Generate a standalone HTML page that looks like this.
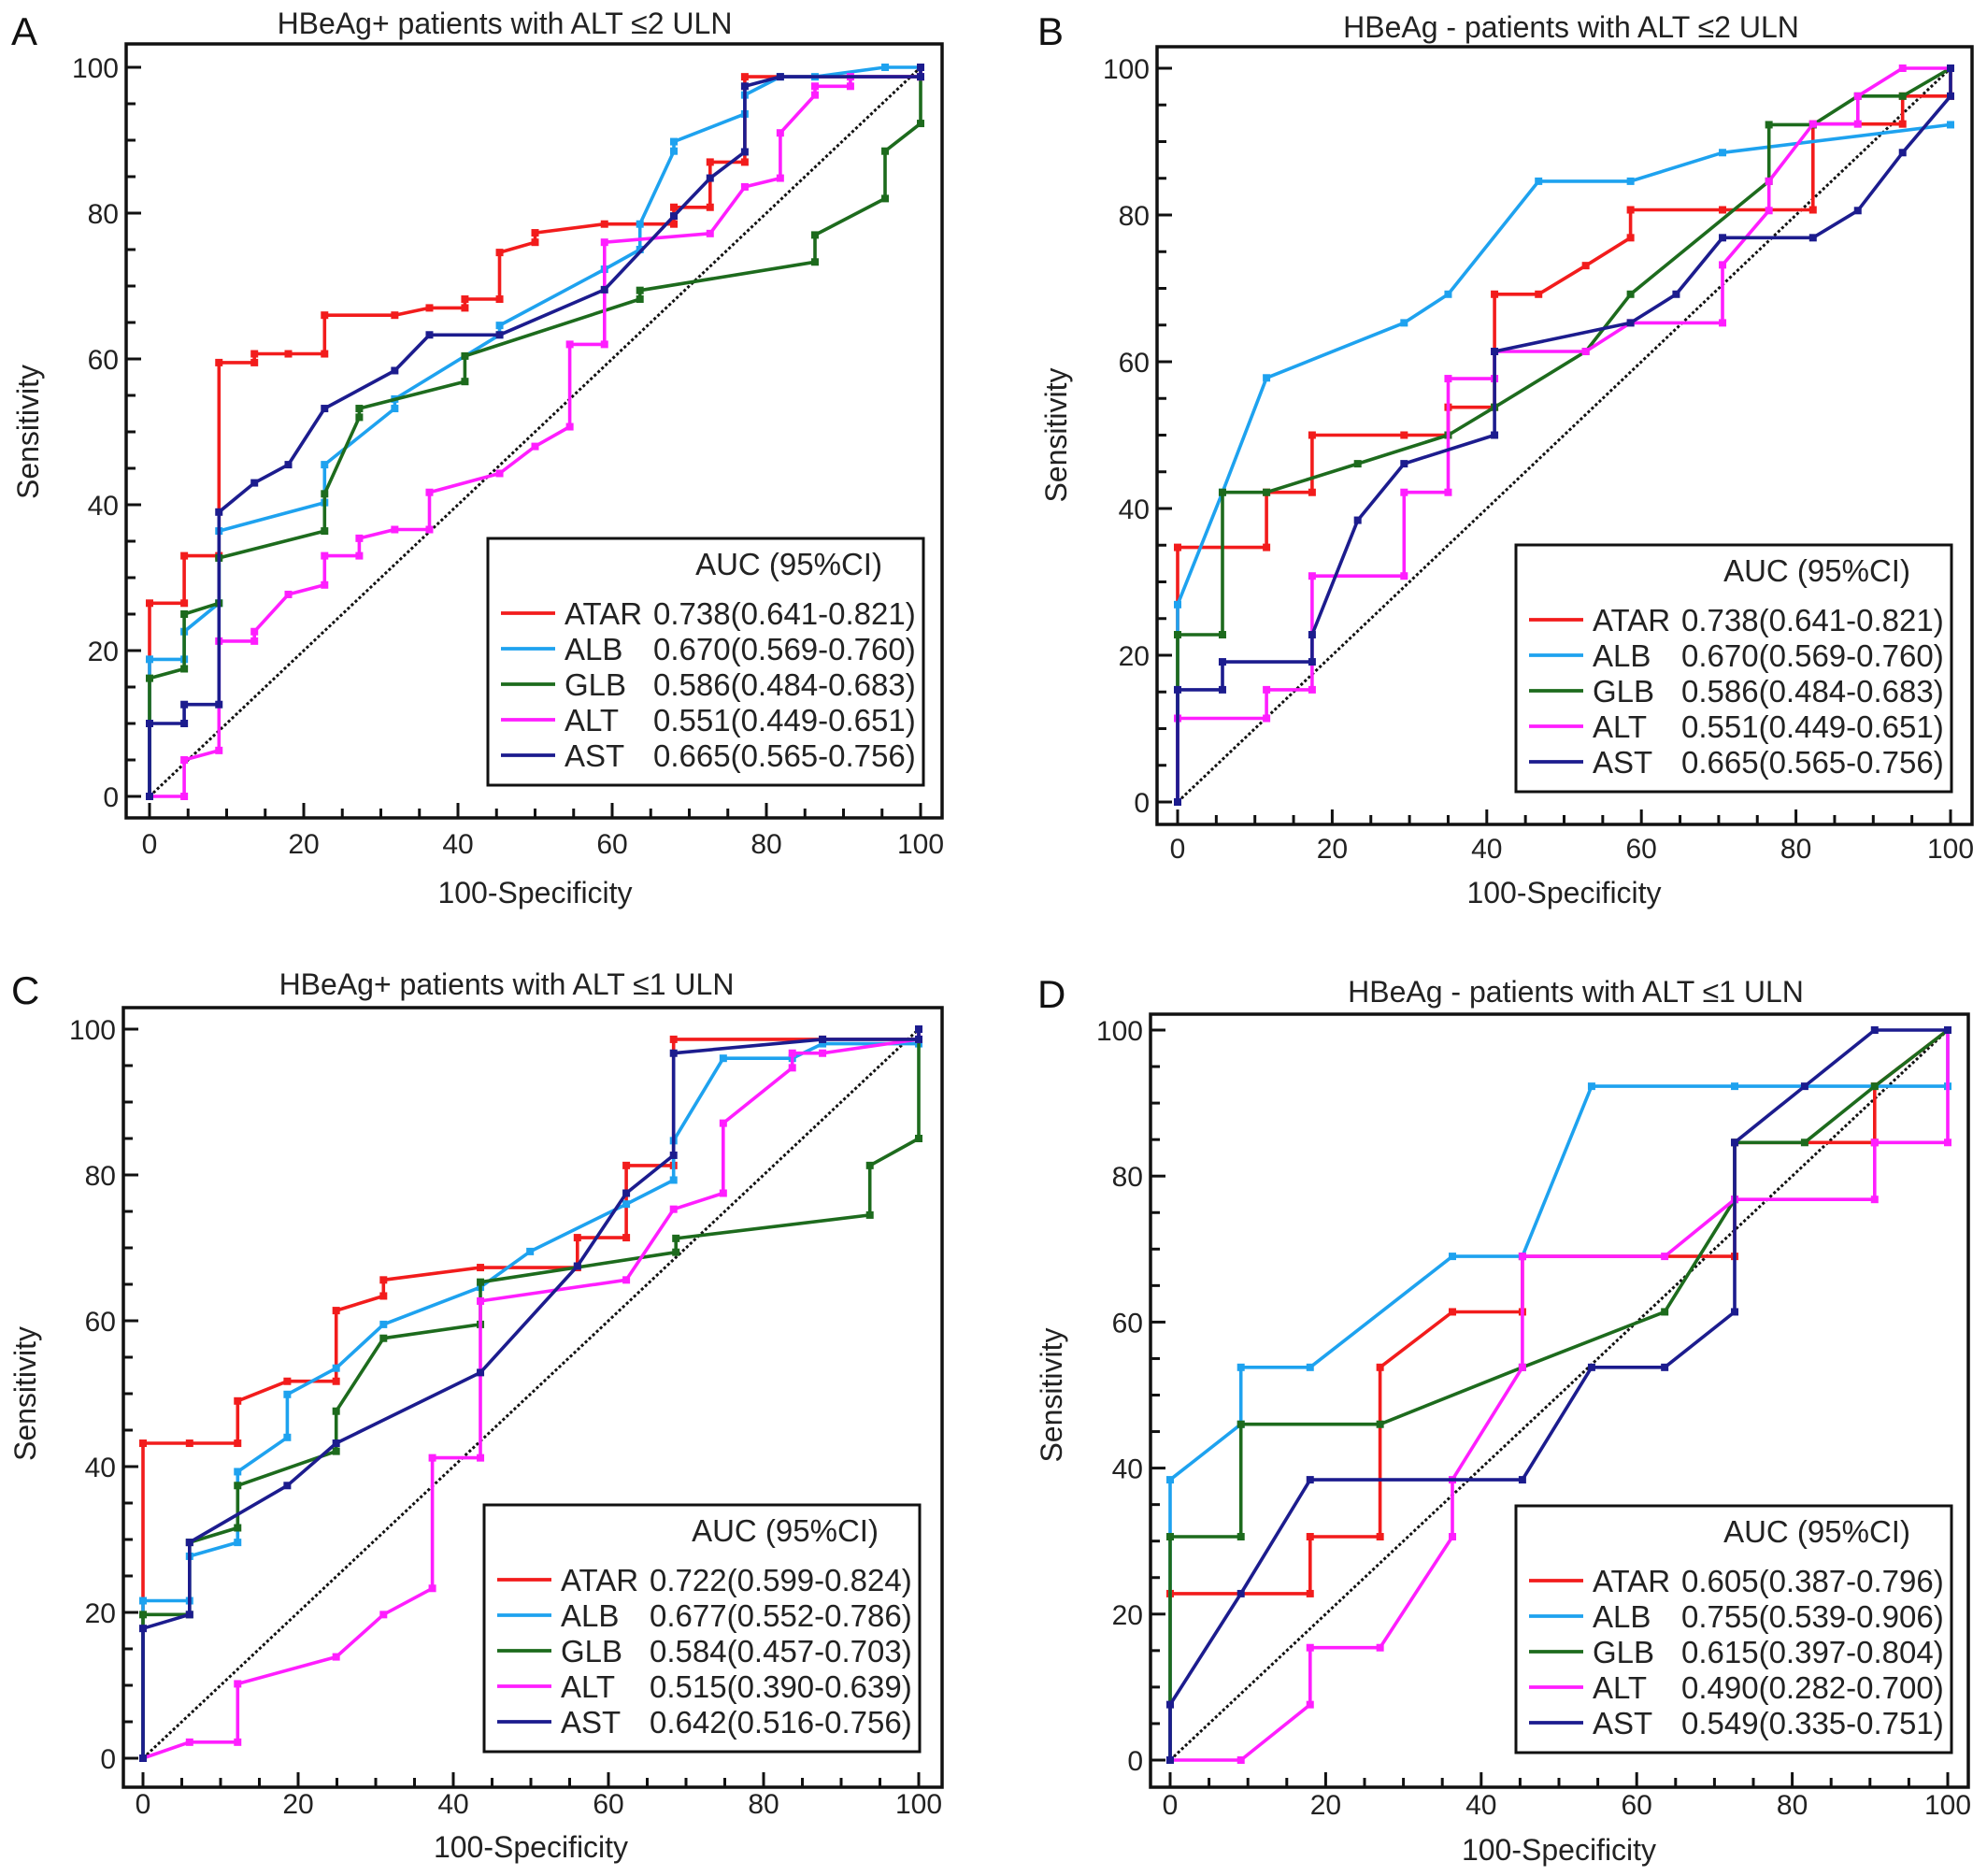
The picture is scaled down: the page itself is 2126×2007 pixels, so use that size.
<!DOCTYPE html>
<html><head><meta charset="utf-8"><style>
html,body{margin:0;padding:0;background:#fff}
svg{display:block;font-family:"Liberation Sans",sans-serif}
</style></head><body>
<svg id="fig" width="2126" height="2007" viewBox="0 0 2126 2007" xmlns="http://www.w3.org/2000/svg"></svg>
<script>
// ---------- DATA ----------
const seriesNames = ["ATAR","ALB","GLB","ALT","AST"];
const seriesColors = ["#f21c1c","#1ea2ef","#1d6b1d","#ff1eff","#1c1c8e"];
const xTicks = [0,20,40,60,80,100];
const yTicks = [0,20,40,60,80,100];
const panelTitles = ["HBeAg+ patients with ALT \u22642 ULN","HBeAg - patients with ALT \u22642 ULN","HBeAg+ patients with ALT \u22641 ULN","HBeAg - patients with ALT \u22641 ULN"];
const panelLetters = ["A","B","C","D"];
const aucA = ["0.738(0.641-0.821)","0.670(0.569-0.760)","0.586(0.484-0.683)","0.551(0.449-0.651)","0.665(0.565-0.756)"];
const aucB = ["0.738(0.641-0.821)","0.670(0.569-0.760)","0.586(0.484-0.683)","0.551(0.449-0.651)","0.665(0.565-0.756)"];
const aucC = ["0.722(0.599-0.824)","0.677(0.552-0.786)","0.584(0.457-0.703)","0.515(0.390-0.639)","0.642(0.516-0.756)"];
const aucD = ["0.605(0.387-0.796)","0.755(0.539-0.906)","0.615(0.397-0.804)","0.490(0.282-0.700)","0.549(0.335-0.751)"];

// Panel A
const aAtarX=[0,0,4.5,4.5,9,9,13.6,13.6,18,22.7,22.7,31.8,36.3,40.9,40.9,45.4,45.4,50,50,59,68,68,72.7,72.7,77.2,77.2,100,100];
const aAtarY=[0,26.5,26.5,33,33,59.5,59.5,60.7,60.7,60.7,66,66,67,67,68.2,68.2,74.6,76,77.3,78.5,78.5,80.8,80.8,87,87,98.7,98.7,100];
const aAlbX=[0,0,4.5,4.5,9,9,22.7,22.7,31.8,31.8,45.4,45.4,59,63.6,63.6,68,68,77.2,77.2,81.8,86.3,95.4,100];
const aAlbY=[0,18.8,18.8,22.6,26.5,36.4,40.3,45.5,53.2,54.5,63.3,64.6,72.3,75,78.5,88.5,89.8,93.6,96.2,98.7,98.7,100,100];
const aGlbX=[0,0,4.5,4.5,9,9,22.7,22.7,27.2,27.2,40.9,40.9,63.6,63.6,86.3,86.3,95.4,95.4,100,100];
const aGlbY=[0,16.2,17.5,25,26.5,32.7,36.4,41.5,52,53.2,56.9,60.4,68.2,69.4,73.3,77,82,88.5,92.3,100];
const aAltX=[0,4.5,4.5,9,9,13.6,13.6,18,22.7,22.7,27.2,27.2,31.8,36.3,36.3,45.4,50,54.5,54.5,59,59,72.7,77.2,81.8,81.8,86.3,86.3,90.9,90.9,100,100];
const aAltY=[0,0,5,6.3,21.3,21.3,22.6,27.7,29,33,33,35.4,36.6,36.6,41.7,44.3,48,50.7,62,62,76,77.2,83.6,84.8,91,96.2,97.4,97.4,98.7,98.7,100];
const aAstX=[0,0,4.5,4.5,9,9,13.6,18,22.7,31.8,36.3,45.4,59,68,72.7,77.2,77.2,81.8,100,100];
const aAstY=[0,10,10,12.6,12.6,39,43,45.5,53.2,58.4,63.3,63.3,69.5,79.6,84.8,88.4,97.4,98.7,98.7,100];

// Panel B
const bAtarX=[0,0,11.5,11.5,17.4,17.4,29.3,35,35,41,41,46.7,52.8,58.6,58.6,70.5,82.2,82.2,93.8,93.8,100,100];
const bAtarY=[0,34.7,34.7,42.2,42.2,50,50,50,53.8,53.8,69.2,69.2,73.1,76.9,80.7,80.7,80.7,92.4,92.4,96.2,96.2,100];
const bAlbX=[0,0,5.8,11.5,29.3,35,46.7,58.6,70.5,100];
const bAlbY=[0,26.9,42.2,57.8,65.3,69.2,84.6,84.6,88.5,92.3];
const bGlbX=[0,0,5.8,5.8,11.5,23.3,35,41,52.8,58.6,76.5,76.5,82.2,88,93.8,100];
const bGlbY=[0,22.8,22.8,42.2,42.2,46.1,50,53.8,61.4,69.2,84.6,92.3,92.3,96.2,96.2,100];
const bAltX=[0,0,11.5,11.5,17.4,17.4,29.3,29.3,35,35,41,41,52.8,58.6,70.5,70.5,76.5,76.5,82.2,88,88,93.8,100];
const bAltY=[0,11.4,11.4,15.3,15.3,30.8,30.8,42.2,42.2,57.7,57.7,61.4,61.4,65.3,65.3,73.2,80.6,84.6,92.4,92.4,96.2,100,100];
const bAstX=[0,0,5.8,5.8,17.4,17.4,23.3,29.3,41,41,58.6,64.5,70.5,82.2,88,93.8,100,100];
const bAstY=[0,15.3,15.3,19.1,19.1,22.8,38.4,46.1,50,61.4,65.3,69.2,76.9,76.9,80.6,88.5,96.2,100];

// Panel C
const cAtarX=[0,0,6,12.2,12.2,18.6,24.9,24.9,31,31,43.5,56,56,62.3,62.3,68.4,68.4,87.6,100,100];
const cAtarY=[0,43.2,43.2,43.2,49,51.7,51.7,61.4,63.4,65.6,67.3,67.3,71.4,71.4,81.3,81.3,98.6,98.6,98.6,100];
const cAlbX=[0,0,6,6,12.2,12.2,18.6,18.6,24.9,31,43.5,49.9,62.3,68.4,68.4,74.8,83.7,87.6,100,100];
const cAlbY=[0,21.6,21.6,27.7,29.6,39.3,44,49.9,53.5,59.5,64.6,69.5,76,79.3,84.7,96,96,98,98,100];
const cGlbX=[0,0,6,6,12.2,12.2,24.9,24.9,31,43.5,43.5,68.7,68.7,93.7,93.7,100,100];
const cGlbY=[0,19.7,19.7,29.6,31.6,37.4,42.1,47.6,57.6,59.5,65.3,69.4,71.3,74.5,81.3,85,100];
const cAltX=[0,6,12.2,12.2,24.9,31,37.3,37.3,43.5,43.5,62.3,68.4,74.8,74.8,83.7,83.7,87.6,100,100];
const cAltY=[0,2.2,2.2,10.2,13.9,19.7,23.3,41.2,41.2,62.7,65.6,75.3,77.5,87.1,94.7,96.7,96.7,98.6,100];
const cAstX=[0,0,6,6,18.6,24.9,43.5,56,62.3,68.4,68.4,87.6,100,100];
const cAstY=[0,17.8,19.7,29.6,37.4,43.2,52.9,67.5,77.5,82.7,96.7,98.6,98.6,100];

// Panel D
const dAtarX=[0,0,18,18,27,27,36.3,45.3,45.3,72.6,72.6,90.6,90.6,100];
const dAtarY=[0,22.8,22.8,30.6,30.6,53.8,61.4,61.4,69,69,84.6,84.6,92.3,100];
const dAlbX=[0,0,9.1,9.1,18,36.3,45.3,54.2,72.6,100,100];
const dAlbY=[0,38.4,46,53.8,53.8,69,69,92.3,92.3,92.3,100];
const dGlbX=[0,0,9.1,9.1,27,45.3,63.6,72.6,72.6,81.6,90.6,100];
const dGlbY=[0,30.6,30.6,46,46,53.8,61.4,76.8,84.6,84.6,92.3,100];
const dAltX=[0,9.1,18,18,27,36.3,36.3,45.3,45.3,63.6,72.6,90.6,90.6,100,100];
const dAltY=[0,0,7.6,15.4,15.4,30.6,38.4,53.8,69,69,76.8,76.8,84.6,84.6,100];
const dAstX=[0,0,9.1,18,45.3,54.2,63.6,72.6,72.6,81.6,90.6,100];
const dAstY=[0,7.6,22.8,38.4,38.4,53.8,53.8,61.4,84.6,92.3,100,100];

// ---------- LAYOUT ----------
const panels = [
 {x0:160,x1:985,y0:852,y1:72,fl:135,ft:47,fr:1008,fb:875,tx:540,ty:36,lx:12,ly:46,sx:30,xl:966,tl:38,leg:[522,576],auc:aucA,
  data:[[aAtarX,aAtarY],[aAlbX,aAlbY],[aGlbX,aGlbY],[aAltX,aAltY],[aAstX,aAstY]]},
 {x0:1260,x1:2087,y0:858,y1:73,fl:1238,ft:50,fr:2110,fb:882,tx:1681,ty:40,lx:1110,ly:46,sx:1130,xl:966,tl:36,leg:[1622,583],auc:aucB,
  data:[[bAtarX,bAtarY],[bAlbX,bAlbY],[bGlbX,bGlbY],[bAltX,bAltY],[bAstX,bAstY]]},
 {x0:153,x1:983,y0:1881,y1:1101,fl:132,ft:1078,fr:1008,fb:1912,tx:542,ty:1064,lx:12,ly:1072,sx:27,xl:1987,tl:28,leg:[518,1610],auc:aucC,
  data:[[cAtarX,cAtarY],[cAlbX,cAlbY],[cGlbX,cGlbY],[cAltX,cAltY],[cAstX,cAstY]]},
 {x0:1252,x1:2084,y0:1883,y1:1102,fl:1231,ft:1085,fr:2106,fb:1912,tx:1686,ty:1072,lx:1110,ly:1076,sx:1125,xl:1990,tl:29,leg:[1622,1611],auc:aucD,
  data:[[dAtarX,dAtarY],[dAlbX,dAlbY],[dGlbX,dGlbY],[dAltX,dAltY],[dAstX,dAstY]]}
];

const NS="http://www.w3.org/2000/svg";
const svg=document.getElementById('fig');
function mk(tag,attrs,parent){const e=document.createElementNS(NS,tag);for(const k in attrs)e.setAttribute(k,attrs[k]);(parent||svg).appendChild(e);return e;}

panels.forEach((p,pi)=>{
  const sx=v=>p.x0+(p.x1-p.x0)*v/100;
  const sy=v=>p.y0+(p.y1-p.y0)*v/100;
  const g=mk('g',{});
  
  

  const letter=mk('text',{x:p.lx,y:p.ly+2,'font-size':42,fill:'#111'},g);
  letter.textContent=panelLetters[pi];
  
  

  const title=mk('text',{x:p.tx,y:p.ty,'font-size':32,'text-anchor':'middle',fill:'#222'},g);
  title.textContent=panelTitles[pi];
  
  

  const frame=mk('rect',{x:p.fl,y:p.ft,width:p.fr-p.fl,height:p.fb-p.ft,fill:'none',stroke:'#111','stroke-width':3.5},g);
  
  

  for(let v=0;v<=100;v+=5){
    const major=v%20===0;
    const tx=mk('line',{x1:sx(v),x2:sx(v),y1:p.fb,y2:p.fb-(major?16:10),stroke:'#111','stroke-width':3},g);
    
    
    const ty=mk('line',{x1:p.fl,x2:p.fl+(major?16:10),y1:sy(v),y2:sy(v),stroke:'#111','stroke-width':3},g);
    
    
  }
  xTicks.forEach(v=>{
    const t=mk('text',{x:sx(v),y:p.fb+p.tl,'font-size':30,'text-anchor':'middle',fill:'#222'},g);
    t.textContent=v;
    
    
  });
  yTicks.forEach(v=>{
    const t=mk('text',{x:p.fl-8,y:sy(v)+11,'font-size':30,'text-anchor':'end',fill:'#222'},g);
    t.textContent=v;
    
    
  });
  const xt=mk('text',{x:(p.x0+p.x1)/2,y:p.xl,'font-size':32,'text-anchor':'middle',fill:'#222'},g);
  xt.textContent='100-Specificity';
  
  
  const cy=(p.y0+p.y1)/2;
  const yt=mk('text',{x:p.sx,y:cy,'font-size':32,'text-anchor':'middle',fill:'#222',transform:`rotate(-90 ${p.sx} ${cy}) translate(0 11)`},g);
  yt.textContent='Sensitivity';
  
  

  const diag=mk('line',{x1:sx(0),y1:sy(0),x2:sx(100),y2:sy(100),stroke:'#111','stroke-width':3,'stroke-dasharray':'3 2.5'},g);
  
  

  p.data.forEach((d,si)=>{
    const xs=d[0], ys=d[1];
    const pts=xs.map((x,i)=>sx(x).toFixed(1)+','+sy(ys[i]).toFixed(1)).join(' ');
    const sg=mk('g',{},g);
    
    
    const pl=mk('polyline',{points:pts,fill:'none',stroke:seriesColors[si],'stroke-width':3.6,'stroke-linejoin':'round'},sg);
    
    
    xs.forEach((x,i)=>{
      const m=mk('rect',{x:sx(x)-4,y:sy(ys[i])-4,width:8,height:8,fill:seriesColors[si]},sg);
      
      
    });
  });

  const L=p.leg[0], T=p.leg[1];
  const lg=mk('g',{},g);
  
  
  const box=mk('rect',{x:L,y:T,width:466,height:264,fill:'#fff',stroke:'#111','stroke-width':3},lg);
  
  
  const hd=mk('text',{x:L+322,y:T+39,'font-size':33,'text-anchor':'middle',fill:'#222'},lg);
  hd.textContent='AUC (95%CI)';
  
  
  seriesNames.forEach((n,si)=>{
    const yy=T+80+si*38;
    const eg=mk('g',{},lg);
    
    
    mk('line',{x1:L+14,x2:L+72,y1:yy,y2:yy,stroke:seriesColors[si],'stroke-width':3.8},eg);
    const nt=mk('text',{x:L+82,y:yy+12,'font-size':33,fill:'#222'},eg);
    nt.textContent=n;
    const vt=mk('text',{x:L+177,y:yy+12,'font-size':33,fill:'#222'},eg);
    vt.textContent=p.auc[si];
  });
});
</script>
</body></html>
